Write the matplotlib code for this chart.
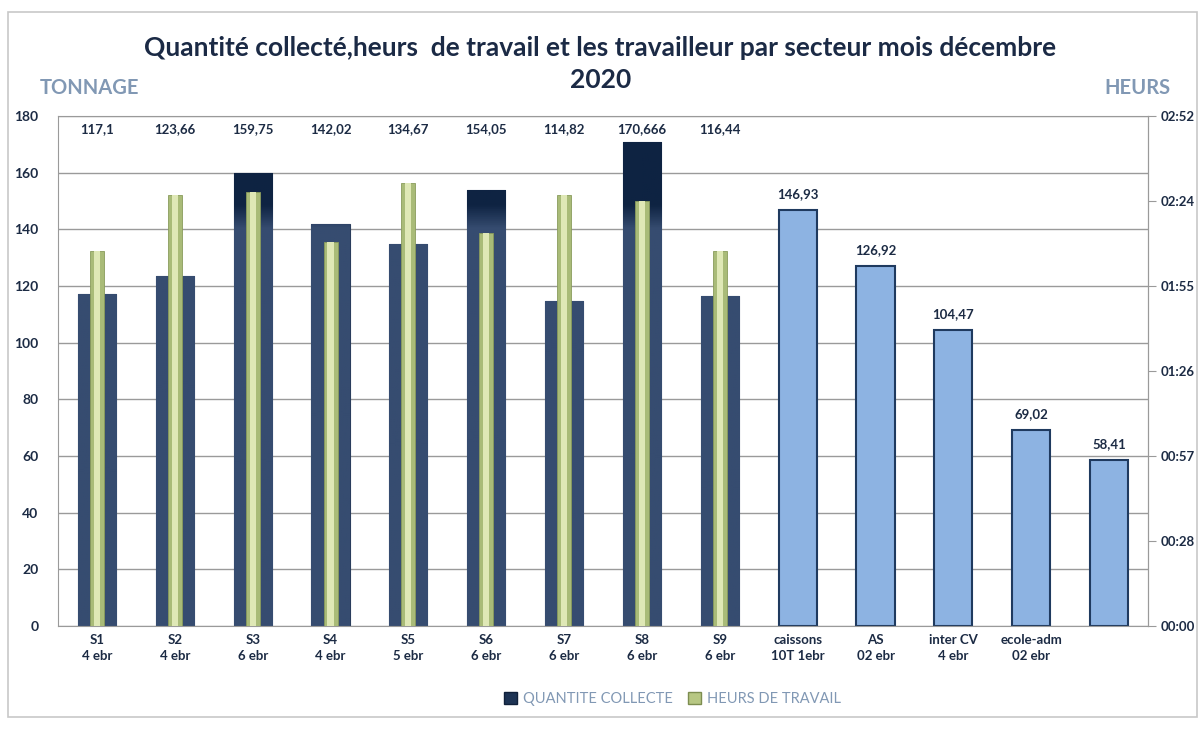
import numpy as np
import matplotlib
matplotlib.use("Agg")
import matplotlib.pyplot as plt
from matplotlib.colors import LinearSegmentedColormap
from matplotlib.patches import Rectangle

plt.rcParams['font.family'] = ['Lato', 'DejaVu Sans']

# ----------------------------------------------------------------------------------------------------------------------
# data

secteurs = ["S1\n4 ebr", "S2\n4 ebr", "S3\n6 ebr", "S4\n4 ebr", "S5\n5 ebr", "S6\n6 ebr", "S7\n6 ebr",
            "S8\n6 ebr", "S9\n6 ebr", "caissons\n10T 1ebr", "AS\n02 ebr", "inter CV\n4 ebr",
            "ecole-adm\n02 ebr", ""]
quantite_s = [117.1, 123.66, 159.75, 142.02, 134.67, 154.05, 114.82, 170.666, 116.44]
quantite_autres = [146.93, 126.92, 104.47, 69.02, 58.41]
heures = ["2:07", "2:26", "2:27", "2:10", "2:30", "2:13", "2:26", "2:24", "2:07"]

titre = "Quantité collecté,heurs  de travail et les travailleur par secteur mois décembre\n2020"

# ----------------------------------------------------------------------------------------------------------------------

txt = "#1c2b44"
grey_lbl = "#8198b4"

def to_min(s):
    h, m = s.split(":")
    return int(h) * 60 + int(m)

def fmt_hm(v, pos=None):
    v = int(round(v, 3))
    return "{:02d}:{:02d}".format(v // 60, v % 60)

heures_min = [to_min(h) for h in heures]
n_s = len(quantite_s)
x = np.arange(len(secteurs))
x_s = x[:n_s]
x_a = x[n_s:n_s + len(quantite_autres)]

fig = plt.figure(figsize=(12.01, 7.30), dpi=100)
fig.patches.append(Rectangle((0.007, 0.018), 0.99, 0.965, transform=fig.transFigure,
                             fill=False, edgecolor="#c8c8c8", lw=1.2))
ax = fig.add_axes([0.0483, 0.1425, 0.9076, 0.6986])
ax2 = ax.twinx()

ax.set_xlim(-0.5, len(secteurs) - 0.5)
ax.set_ylim(0, 180)
ax2.set_ylim(0, 172.8)

ax.set_yticks(np.arange(0, 181, 20))
ax.grid(axis="y", color="#9a9a9a", lw=1)
ax.set_axisbelow(True)
for sp in ax.spines.values():
    sp.set_color("#9a9a9a")
for sp in ax2.spines.values():
    sp.set_visible(False)

# bars of the sectors S1..S9 with a dark top gradient
cmap = LinearSegmentedColormap.from_list("navy", ["#364c70", "#364c70", "#0e2342", "#0e2342"])
grad = np.linspace(0, 1, 256).reshape(-1, 1)
grad = np.clip((grad * 180 - 132) / 25, 0, 1)
bars = ax.bar(x_s, quantite_s, width=0.49, color="#34496d", edgecolor="#2a3d5c", lw=0.8, zorder=2)
for b in bars:
    im = ax.imshow(grad, extent=[b.get_x(), b.get_x() + b.get_width(), 0, 180], origin="lower",
                   aspect="auto", cmap=cmap, vmin=0, vmax=1, zorder=2.1)
    im.set_clip_path(b)
ax.set_aspect("auto")
ax.set_xlim(-0.5, len(secteurs) - 0.5)
ax.set_ylim(0, 180)

for xi, v in zip(x_s, quantite_s):
    ax.text(xi, 175.5, str(v).replace(".", ","), ha="center", va="center",
            fontsize=9.5, fontweight="bold", color=txt, zorder=5)

# other bars
ax.bar(x_a, quantite_autres, width=0.49, color="#8db3e2", edgecolor="#1f3a5f", lw=1.5, zorder=2)
for xi, v in zip(x_a, quantite_autres):
    ax.text(xi, v + 3.5, str(v).replace(".", ","), ha="center", va="bottom",
            fontsize=9.5, fontweight="bold", color=txt, zorder=5)

# hours of work (right axis)
ax2.bar(x_s, heures_min, width=0.18, color="#a9bb78", edgecolor="#8a9c5c", lw=0.6, zorder=3)
ax2.bar(x_s, heures_min, width=0.08, color="#dfe8b6", lw=0, zorder=3.1)

ax.set_xticks(x)
ax.set_xticklabels(secteurs, fontsize=9.5, fontweight="bold", color=txt, linespacing=1.4)
ax.tick_params(axis="x", length=0, pad=6)
ax.tick_params(axis="y", length=0, pad=14, labelsize=10, labelcolor=txt)
for t in ax.get_yticklabels():
    t.set_fontweight("bold")

ax2.set_yticks(np.arange(0, 172.9, 28.8))
ax2.yaxis.set_major_formatter(plt.FuncFormatter(fmt_hm))
ax2.tick_params(axis="y", length=6, color="#9a9a9a", pad=3, labelsize=9.5, labelcolor=txt)
for t in ax2.get_yticklabels():
    t.set_fontweight("bold")
ax2.spines["right"].set_visible(True)
ax2.spines["right"].set_color("#9a9a9a")
ax.set_zorder(ax2.get_zorder() - 1)
ax.patch.set_visible(True)
ax2.patch.set_visible(False)

fig.text(0.5, 0.913, titre, ha="center", va="center", fontsize=19, fontweight="bold",
         color="#1b2a45", linespacing=1.4)
fig.text(0.033, 0.879, "TONNAGE", ha="left", va="center", fontsize=14.5, fontweight="bold", color=grey_lbl)
fig.text(0.975, 0.879, "HEURS", ha="right", va="center", fontsize=14.5, fontweight="bold", color=grey_lbl)

# legend
h1 = Rectangle((0, 0), 1, 1, facecolor="#1d3354", edgecolor="#10203a")
h2 = Rectangle((0, 0), 1, 1, facecolor="#b7c783", edgecolor="#7d8d50")
leg = fig.legend([h1, h2], ["QUANTITE COLLECTE", "HEURS DE TRAVAIL"], loc="center",
                 bbox_to_anchor=(0.56, 0.043), ncol=2, frameon=False, fontsize=10.5,
                 handlelength=0.9, handleheight=0.9, handletextpad=0.4, columnspacing=1.0)
for t in leg.get_texts():
    t.set_color(grey_lbl)

fig.savefig("out.png", dpi=100)
